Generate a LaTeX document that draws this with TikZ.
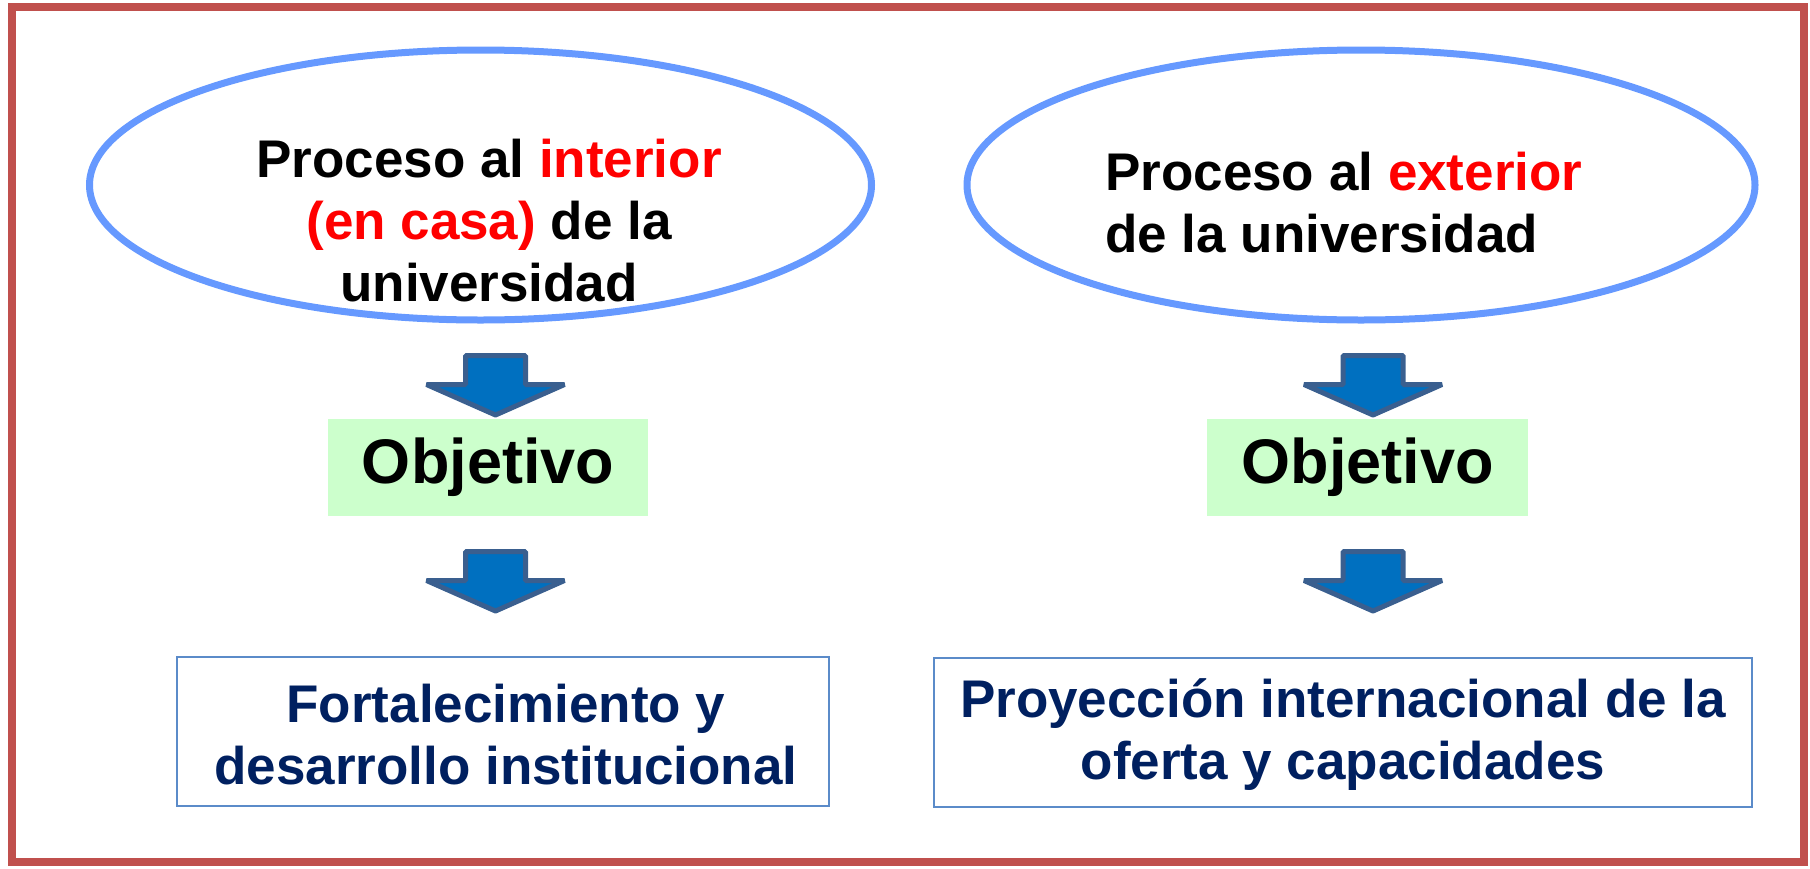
\documentclass[tikz,border=0pt]{standalone}
\usepackage{fontspec}
\setmainfont{Liberation Sans}
\usetikzlibrary{shapes.geometric}
\definecolor{frame}{HTML}{C0504D}
\definecolor{ellc}{HTML}{6699FF}
\definecolor{arrfill}{HTML}{0070C0}
\definecolor{arrline}{HTML}{3A5F8F}
\definecolor{objgreen}{HTML}{CCFFCC}
\definecolor{navy}{HTML}{002060}
\definecolor{boxline}{HTML}{5B8BC9}
\tikzset{
  ell/.style={ellipse, draw=ellc, line width=7pt, inner sep=0pt},
  etext/.style={font=\bfseries\fontsize{53}{62}\selectfont, text=black, inner sep=0pt},
  barrow/.style={fill=arrfill, draw=arrline, line width=5pt, line join=bevel},
  objbox/.style={fill=objgreen, inner sep=0pt, font=\bfseries\fontsize{63}{70}\selectfont},
  resbox/.style={draw=boxline, line width=2pt, inner sep=0pt},
  rtext/.style={font=\bfseries\fontsize{53}{62}\selectfont, text=navy, align=center, inner sep=0pt},
}
\newcommand\blockarr[1]{\draw[barrow] (#1) ++(-30,0) -- ++(60,0) -- ++(0,29) -- ++(39,0) -- ++(-69,30.5) -- ++(-69,-30.5) -- ++(39,0) -- cycle;}
\begin{document}
\begin{tikzpicture}[x=1pt,y=-1pt]
\useasboundingbox (0,0) rectangle (1810,868);
\draw[frame, line width=8pt] (12,7) rectangle (1804,862);
% ellipses
\node[ell, minimum width=782pt, minimum height=270pt] (eL) at (480.5,185) {};
\node[ell, minimum width=788pt, minimum height=270pt] (eR) at (1361,185) {};
\node[etext, align=center] (tL) at (489,221) {Proceso al \textcolor{red}{interior}\\\textcolor{red}{(en casa)} de la\\universidad};
\node[etext, align=left, anchor=west] (tR) at (1105,203) {Proceso al \textcolor{red}{exterior}\\de la universidad};
% arrows
\coordinate (aL1) at (495.5,355.5);
\coordinate (aL2) at (495.5,551.5);
\coordinate (aR1) at (1373,355.5);
\coordinate (aR2) at (1373,551.5);
\blockarr{aL1}
\blockarr{aL2}
\blockarr{aR1}
\blockarr{aR2}
% objetivo
\node[objbox, minimum width=320pt, minimum height=97pt] (oL) at (488,467.5) {Objetivo};
\node[objbox, minimum width=321pt, minimum height=97pt] (oR) at (1367.5,467.5) {Objetivo};
% results
\node[resbox, minimum width=652pt, minimum height=149pt] (rL) at (503,731.5) {};
\node[resbox, minimum width=818pt, minimum height=149pt] (rR) at (1342.5,732.5) {};
\node[rtext] (rtL) at (506,735) {Fortalecimiento y\\desarrollo institucional};
\node[rtext] (rtR) at (1343,735) {Proyección internacional de la\\oferta y capacidades};
\end{tikzpicture}
\end{document}
